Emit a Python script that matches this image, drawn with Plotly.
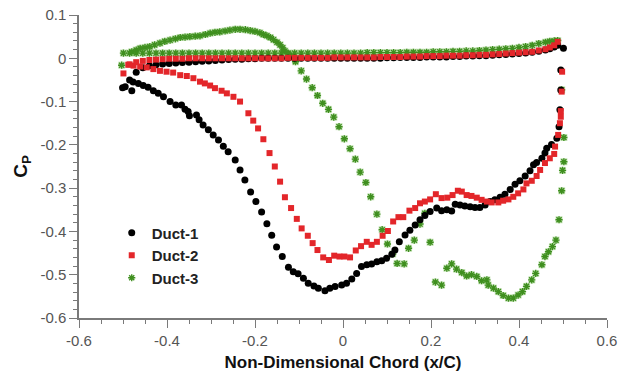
import plotly.graph_objects as go

# ---------------- data ----------------
# Duct-1 (black circles)
d1_lower_x = [-0.501, -0.495, -0.480, -0.477, -0.465, -0.454, -0.443, -0.431, -0.420, -0.408,
              -0.393, -0.380, -0.367, -0.359, -0.352, -0.349, -0.333, -0.327, -0.318, -0.306,
              -0.295, -0.283, -0.272, -0.261, -0.245, -0.234, -0.223, -0.210, -0.198, -0.185,
              -0.173, -0.162, -0.151, -0.138, -0.124, -0.113, -0.102, -0.090, -0.079, -0.066,
              -0.056, -0.041, -0.030, -0.018, -0.003, 0.008, 0.020, 0.031, 0.042, 0.054,
              0.065, 0.077, 0.088, 0.099, 0.111, 0.118, 0.128, 0.141, 0.152, 0.164,
              0.175, 0.186, 0.198, 0.213, 0.224, 0.236, 0.247, 0.255, 0.266, 0.277,
              0.289, 0.300, 0.311, 0.323, 0.334, 0.345, 0.357, 0.368, 0.380, 0.391,
              0.402, 0.414, 0.425, 0.433, 0.440, 0.452, 0.459, 0.463, 0.474, 0.486,
              0.491, 0.493, 0.495, 0.495, 0.501]
d1_lower_cp = [-0.068, -0.066, -0.075, -0.055, -0.058, -0.063, -0.067, -0.075, -0.081, -0.089,
               -0.100, -0.108, -0.108, -0.118, -0.123, -0.133, -0.131, -0.142, -0.154, -0.165,
               -0.177, -0.189, -0.203, -0.216, -0.235, -0.258, -0.281, -0.309, -0.331, -0.355,
               -0.382, -0.409, -0.436, -0.458, -0.483, -0.493, -0.498, -0.508, -0.520, -0.526,
               -0.531, -0.537, -0.531, -0.527, -0.524, -0.520, -0.510, -0.497, -0.481, -0.477,
               -0.475, -0.470, -0.468, -0.462, -0.453, -0.443, -0.424, -0.408, -0.397, -0.385,
               -0.373, -0.363, -0.354, -0.346, -0.352, -0.350, -0.353, -0.337, -0.339, -0.341,
               -0.343, -0.345, -0.345, -0.339, -0.331, -0.327, -0.321, -0.314, -0.303, -0.291,
               -0.283, -0.272, -0.260, -0.246, -0.241, -0.231, -0.219, -0.208, -0.199, -0.185,
               -0.158, -0.119, -0.073, -0.027, 0.023]

# chord stations of the upper-surface points (shared by the three ducts)
upper_x = [-0.485, -0.470, -0.455, -0.440, -0.425, -0.410, -0.395, -0.380, -0.365, -0.350,
           -0.335, -0.320, -0.305, -0.290, -0.275, -0.260, -0.245, -0.230, -0.215, -0.200,
           -0.185, -0.170, -0.155, -0.140, -0.125, -0.110, -0.095, -0.080, -0.065, -0.050,
           -0.035, -0.020, -0.005, 0.010, 0.025, 0.040, 0.055, 0.070, 0.085, 0.100,
           0.115, 0.130, 0.145, 0.160, 0.175, 0.190, 0.205, 0.220, 0.235, 0.250,
           0.265, 0.280, 0.295, 0.310, 0.325, 0.340, 0.355, 0.370, 0.385, 0.400,
           0.415, 0.430, 0.445, 0.460, 0.470, 0.480, 0.488]
d1_upper_cp = [-0.050, -0.032, -0.022, -0.017, -0.015, -0.013, -0.012, -0.011, -0.010, -0.009,
               -0.008, -0.007, -0.006, -0.005, -0.004, -0.003, -0.002, -0.002, -0.001, -0.001,
               0.000, 0.000, 0.000, 0.000, 0.000, 0.000, 0.000, 0.000, 0.000, 0.000,
               0.000, 0.000, 0.000, 0.000, 0.000, 0.000, 0.000, 0.000, 0.000, 0.001,
               0.001, 0.002, 0.002, 0.002, 0.002, 0.003, 0.003, 0.003, 0.003, 0.004,
               0.004, 0.005, 0.005, 0.006, 0.006, 0.007, 0.008, 0.009, 0.010, 0.011,
               0.012, 0.014, 0.016, 0.019, 0.022, 0.026, 0.030]

# Duct-2 (red squares)
d2_lower_x = [-0.499, -0.488, -0.476, -0.461, -0.446, -0.431, -0.416, -0.401, -0.386, -0.370,
              -0.355, -0.340, -0.325, -0.314, -0.302, -0.291, -0.276, -0.264, -0.249, -0.234,
              -0.215, -0.204, -0.193, -0.181, -0.167, -0.155, -0.143, -0.132, -0.118, -0.105,
              -0.094, -0.080, -0.069, -0.058, -0.045, -0.032, -0.020, -0.008, 0.003, 0.016,
              0.029, 0.041, 0.054, 0.065, 0.077, 0.090, 0.102, 0.114, 0.126, 0.137,
              0.151, 0.164, 0.175, 0.186, 0.198, 0.211, 0.224, 0.237, 0.249, 0.261,
              0.270, 0.281, 0.292, 0.304, 0.315, 0.327, 0.338, 0.353, 0.364, 0.376,
              0.387, 0.398, 0.410, 0.417, 0.429, 0.440, 0.448, 0.459, 0.470, 0.480,
              0.482, 0.489, 0.493, 0.495, 0.495, 0.497, 0.498]
d2_lower_cp = [-0.035, -0.015, -0.017, -0.019, -0.021, -0.025, -0.029, -0.031, -0.033, -0.039,
               -0.041, -0.046, -0.054, -0.058, -0.063, -0.069, -0.075, -0.081, -0.089, -0.100,
               -0.127, -0.144, -0.162, -0.187, -0.219, -0.250, -0.285, -0.321, -0.346, -0.371,
               -0.393, -0.410, -0.427, -0.443, -0.460, -0.466, -0.456, -0.458, -0.458, -0.460,
               -0.444, -0.434, -0.424, -0.431, -0.424, -0.410, -0.399, -0.377, -0.367, -0.367,
               -0.352, -0.346, -0.335, -0.331, -0.326, -0.314, -0.323, -0.322, -0.316, -0.306,
               -0.308, -0.316, -0.318, -0.322, -0.327, -0.331, -0.333, -0.333, -0.329, -0.326,
               -0.320, -0.312, -0.303, -0.289, -0.283, -0.272, -0.258, -0.242, -0.231, -0.221,
               -0.204, -0.177, -0.150, -0.135, -0.122, -0.077, -0.031]
d2_upper_cp = [-0.014, -0.009, -0.006, -0.004, -0.003, -0.002, -0.001, -0.001, -0.001, 0.000,
               0.000, 0.000, 0.000, 0.000, 0.000, 0.000, 0.000, 0.000, 0.000, 0.000,
               0.000, 0.000, 0.000, 0.000, 0.001, 0.001, 0.001, 0.001, 0.001, 0.001,
               0.001, 0.002, 0.002, 0.002, 0.002, 0.002, 0.002, 0.002, 0.003, 0.003,
               0.003, 0.003, 0.004, 0.004, 0.004, 0.005, 0.005, 0.005, 0.006, 0.006,
               0.006, 0.007, 0.007, 0.008, 0.008, 0.009, 0.010, 0.011, 0.012, 0.013,
               0.014, 0.015, 0.018, 0.021, 0.025, 0.030, 0.038]

# Duct-3 (green asterisks)
d3_lower_x = [-0.503, -0.499, -0.480, -0.470, -0.461, -0.450, -0.439, -0.428, -0.416, -0.405,
              -0.393, -0.381, -0.370, -0.359, -0.348, -0.336, -0.325, -0.313, -0.302, -0.291,
              -0.280, -0.268, -0.257, -0.245, -0.234, -0.222, -0.211, -0.200, -0.189, -0.181,
              -0.173, -0.165, -0.158, -0.150, -0.143, -0.137, -0.132, -0.124, -0.117, -0.108,
              -0.095, -0.083, -0.070, -0.058, -0.046, -0.033, -0.021, -0.009, 0.003, 0.016,
              0.028, 0.039, 0.052, 0.063, 0.077, 0.089, 0.101, 0.113, 0.123, 0.139,
              0.149, 0.162, 0.175, 0.186, 0.198, 0.210, 0.224, 0.236, 0.247, 0.258,
              0.270, 0.281, 0.292, 0.304, 0.315, 0.327, 0.330, 0.342, 0.353, 0.364,
              0.376, 0.387, 0.398, 0.408, 0.417, 0.429, 0.438, 0.452, 0.459, 0.467,
              0.476, 0.484, 0.491, 0.497, 0.499, 0.502, 0.502, 0.497]
d3_lower_cp = [-0.016, 0.012, 0.015, 0.019, 0.023, 0.025, 0.027, 0.031, 0.035, 0.039,
               0.042, 0.045, 0.048, 0.049, 0.050, 0.051, 0.052, 0.055, 0.058, 0.060,
               0.061, 0.063, 0.065, 0.067, 0.067, 0.066, 0.064, 0.062, 0.059, 0.055,
               0.052, 0.048, 0.043, 0.037, 0.031, 0.024, 0.017, 0.010, 0.004, -0.008,
               -0.029, -0.048, -0.068, -0.086, -0.104, -0.118, -0.136, -0.158, -0.186, -0.209,
               -0.233, -0.263, -0.287, -0.320, -0.360, -0.396, -0.429, -0.452, -0.474, -0.475,
               -0.439, -0.420, -0.383, -0.358, -0.425, -0.517, -0.524, -0.485, -0.475, -0.487,
               -0.495, -0.503, -0.500, -0.504, -0.514, -0.512, -0.524, -0.531, -0.539, -0.548,
               -0.554, -0.554, -0.547, -0.539, -0.527, -0.512, -0.497, -0.477, -0.458, -0.447,
               -0.435, -0.420, -0.373, -0.306, -0.259, -0.239, -0.183, -0.073]
d3_upper_cp = [0.012, 0.012, 0.012, 0.012, 0.012, 0.012, 0.012, 0.012, 0.012, 0.012,
               0.012, 0.012, 0.012, 0.012, 0.012, 0.012, 0.012, 0.012, 0.012, 0.012,
               0.012, 0.012, 0.012, 0.012, 0.012, 0.012, 0.012, 0.012, 0.012, 0.012,
               0.012, 0.012, 0.012, 0.012, 0.012, 0.012, 0.013, 0.013, 0.013, 0.013,
               0.013, 0.013, 0.014, 0.014, 0.014, 0.014, 0.015, 0.015, 0.015, 0.016,
               0.016, 0.017, 0.017, 0.018, 0.019, 0.020, 0.021, 0.022, 0.023, 0.025,
               0.027, 0.030, 0.034, 0.037, 0.039, 0.040, 0.041]

names = ["Duct-1", "Duct-2", "Duct-3"]
x_ticks = [-0.6, -0.4, -0.2, 0, 0.2, 0.4, 0.6]
x_tick_text = ["-0.6", "-0.4", "-0.2", "0", "0.2", "0.4", "0.6"]
y_ticks = [0.1, 0, -0.1, -0.2, -0.3, -0.4, -0.5, -0.6]
y_tick_text = ["0.1", "0", "-0.1", "-0.2", "-0.3", "-0.4", "-0.5", "-0.6"]

# ---------------- figure ----------------
BLACK = "#000000"
RED = "#e3262a"
GREEN = "#3f8f1f"
GREEN_LIGHT = "rgba(130,195,100,0.45)"
FONT = "Liberation Sans, Arial, sans-serif"

fig = go.Figure()

# Duct-3 halo squares (background)
fig.add_trace(go.Scatter(x=d3_lower_x + upper_x, y=d3_lower_cp + d3_upper_cp, mode="markers",
                         marker=dict(symbol="square", size=7, color=GREEN_LIGHT),
                         showlegend=False, hoverinfo="skip"))
fig.add_trace(go.Scatter(x=d3_lower_x + upper_x, y=d3_lower_cp + d3_upper_cp, mode="markers",
                         name="<b>" + names[2] + "</b>", legendrank=3,
                         marker=dict(symbol="asterisk-open", size=6,
                                     line=dict(color=GREEN, width=1.4), color=GREEN)))
fig.add_trace(go.Scatter(x=d1_lower_x + upper_x, y=d1_lower_cp + d1_upper_cp, mode="markers",
                         name="<b>" + names[0] + "</b>", legendrank=1,
                         marker=dict(symbol="circle", size=7, color=BLACK)))
fig.add_trace(go.Scatter(x=d2_lower_x + upper_x, y=d2_lower_cp + d2_upper_cp, mode="markers",
                         name="<b>" + names[1] + "</b>", legendrank=2,
                         marker=dict(symbol="square", size=6, color=RED)))

axis_common = dict(
    showgrid=False, zeroline=False, showline=True, linecolor="#7a7a7a", linewidth=1.5,
    ticks="outside", ticklen=8, tickwidth=1.2, tickcolor="#7a7a7a",
    tickfont=dict(family=FONT, size=15, color="#555555"),
    mirror=False, automargin=False,
)

fig.update_xaxes(
    range=[-0.6, 0.6], tickvals=x_ticks, ticktext=x_tick_text,
    minor=dict(dtick=0.05, ticklen=4, tickcolor="#7a7a7a", tickwidth=1, ticks="outside"),
    title=dict(text="<b>Non-Dimensional Chord (x/C)</b>", standoff=8,
               font=dict(family=FONT, size=17, color="#111111")),
    **axis_common,
)
fig.update_yaxes(
    range=[-0.6, 0.1], tickvals=y_ticks, ticktext=y_tick_text,
    minor=dict(dtick=0.02, ticklen=4, tickcolor="#7a7a7a", tickwidth=1, ticks="outside"),
    title=dict(text="<b>C<sub>P</sub></b>", standoff=8,
               font=dict(family=FONT, size=19, color="#111111")),
    **axis_common,
)

fig.update_layout(
    width=629, height=373,
    margin=dict(l=79, r=22, t=15, b=55, autoexpand=False),
    paper_bgcolor="white", plot_bgcolor="white",
    legend=dict(x=0.062, y=0.335, xanchor="left", yanchor="top",
                bgcolor="rgba(0,0,0,0)", traceorder="normal", tracegroupgap=0,
                font=dict(family=FONT, size=15, color="#222222")),
    showlegend=True,
)

fig.write_html("out.html")
